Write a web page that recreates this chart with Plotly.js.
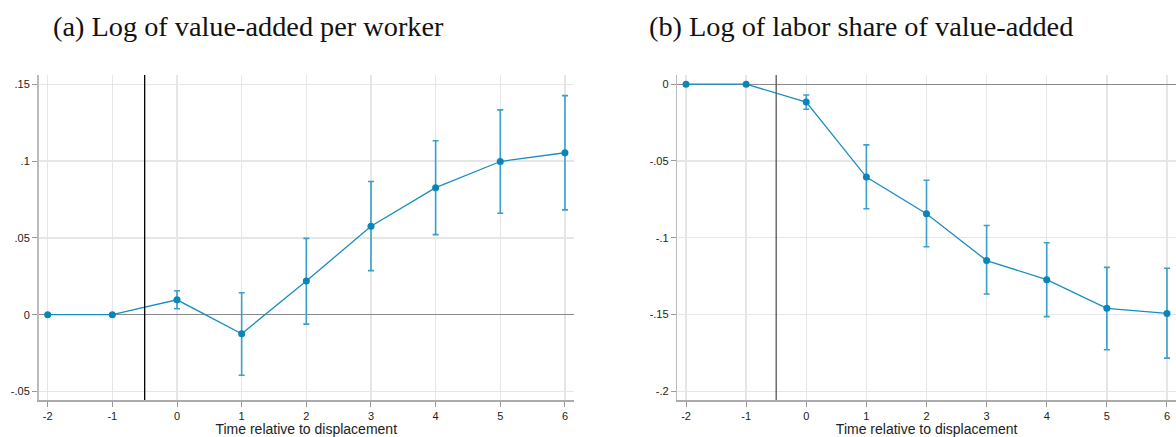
<!DOCTYPE html>
<html>
<head>
<meta charset="utf-8">
<script src="https://cdn.plot.ly/plotly-3.0.1.min.js"></script>
<style>html,body{margin:0;padding:0;background:#fff;}#chart{width:1176px;height:437px;}</style>
</head>
<body>
<div id="chart"></div>
<script>
// ---- data ----
const periods = [-2, -1, 0, 1, 2, 3, 4, 5, 6];
const xTickLabels = ["-2", "-1", "0", "1", "2", "3", "4", "5", "6"];

// (a) Log of value-added per worker
const vaCoef  = [0, 0, 0.0097, -0.0124, 0.0219, 0.0576, 0.0827, 0.0997, 0.1054];
const vaUpper = [0, 0, 0.0156,  0.0143, 0.0497, 0.0867, 0.1132, 0.1333, 0.1426];
const vaLower = [0, 0, 0.0039, -0.0394, -0.0061, 0.0287, 0.0521, 0.0660, 0.0682];
const vaTickVals = [-0.05, 0, 0.05, 0.1, 0.15];
const vaTickText = ["-.05", "0", ".05", ".1", ".15"];

// (b) Log of labor share of value-added
const lsCoef  = [0, 0, -0.0116, -0.0605, -0.0844, -0.1149, -0.1273, -0.1460, -0.1493];
const lsUpper = [0, 0, -0.0070, -0.0395, -0.0626, -0.0920, -0.1033, -0.1193, -0.1199];
const lsLower = [0, 0, -0.0163, -0.0811, -0.1059, -0.1367, -0.1514, -0.1730, -0.1784];
const lsTickVals = [-0.2, -0.15, -0.1, -0.05, 0];
const lsTickText = ["-.2", "-.15", "-.1", "-.05", "0"];

const titleA = "(a) Log of value-added per worker";
const titleB = "(b) Log of labor share of value-added";
const xTitle = "Time relative to displacement";
const eventLine = -0.5;

// ---- styling ----
const lineColor = "#1a8dbf";
const markerColor = "#0a85b8";
const errColor = "#3a9fca";

function trace(y, up, lo, xa, ya) {
  return {
    x: periods, y: y, xaxis: xa, yaxis: ya,
    type: "scatter", mode: "lines+markers",
    line: {color: lineColor, width: 1.3},
    marker: {color: markerColor, size: 7},
    error_y: {
      type: "data", symmetric: false,
      array: up.map((u, i) => u - y[i]),
      arrayminus: lo.map((l, i) => y[i] - l),
      color: errColor, thickness: 1.6, width: 3
    },
    hoverinfo: "skip", showlegend: false
  };
}

const W = 1176, H = 437;
const yDom = [(H - 400) / H, (H - 75) / H];

function xaxis(domain, range, anchor) {
  return {
    domain: domain, range: range, anchor: anchor,
    tickvals: periods, ticktext: xTickLabels,
    ticks: "outside", ticklen: 5, tickcolor: "#999", tickwidth: 1,
    showgrid: true, gridcolor: "#e6e6e6", gridwidth: 1.3,
    showline: true, linecolor: "#aaa", linewidth: 1.5,
    zeroline: false,
    tickfont: {family: "Liberation Sans, Arial, sans-serif", size: 11, color: "#222"},
    title: {text: xTitle, font: {family: "Liberation Sans, Arial, sans-serif", size: 14, color: "#222"}, standoff: 3},
    fixedrange: true
  };
}
function yaxis(range, vals, text, anchor) {
  return {
    domain: yDom, range: range, anchor: anchor,
    tickvals: vals, ticktext: text,
    ticks: "outside", ticklen: 5, tickcolor: "#999", tickwidth: 1,
    showgrid: true, gridcolor: "#e6e6e6", gridwidth: 1.3,
    showline: true, linecolor: "#bbb", linewidth: 1.5,
    zeroline: true, zerolinecolor: "#8a8a8a", zerolinewidth: 1.1,
    tickfont: {family: "Liberation Sans, Arial, sans-serif", size: 11, color: "#222"},
    fixedrange: true
  };
}

const layout = {
  width: W, height: H,
  margin: {l: 0, r: 0, t: 0, b: 0},
  paper_bgcolor: "#fff", plot_bgcolor: "#fff",
  xaxis: xaxis([38.5 / W, 574 / W], [-2.142, 6.14], "y"),
  yaxis: yaxis([-0.0555, 0.156], vaTickVals, vaTickText, "x"),
  xaxis2: xaxis([677.3 / W, 1], [-2.145, 6.15], "y2"),
  yaxis2: yaxis([-0.2057, 0.006], lsTickVals, lsTickText, "x2"),
  shapes: [
    {type: "line", xref: "x", yref: "y domain", x0: eventLine, x1: eventLine, y0: 0, y1: 1, line: {color: "#000", width: 1.3}, layer: "above"},
    {type: "line", xref: "x2", yref: "y2 domain", x0: eventLine, x1: eventLine, y0: 0, y1: 1, line: {color: "#555", width: 1.3}, layer: "above"}
  ],
  annotations: [
    {text: titleA, xref: "paper", yref: "paper", x: 248 / W, y: (H - 26) / H, xanchor: "center", yanchor: "middle", showarrow: false,
     font: {family: "Liberation Serif, Times New Roman, serif", size: 28.3, color: "#111"}},
    {text: titleB, xref: "paper", yref: "paper", x: 861 / W, y: (H - 26) / H, xanchor: "center", yanchor: "middle", showarrow: false,
     font: {family: "Liberation Serif, Times New Roman, serif", size: 28.3, color: "#111"}}
  ]
};

Plotly.newPlot("chart", [
  trace(vaCoef, vaUpper, vaLower, "x", "y"),
  trace(lsCoef, lsUpper, lsLower, "x2", "y2")
], layout, {staticPlot: true, displayModeBar: false});
</script>
</body>
</html>
